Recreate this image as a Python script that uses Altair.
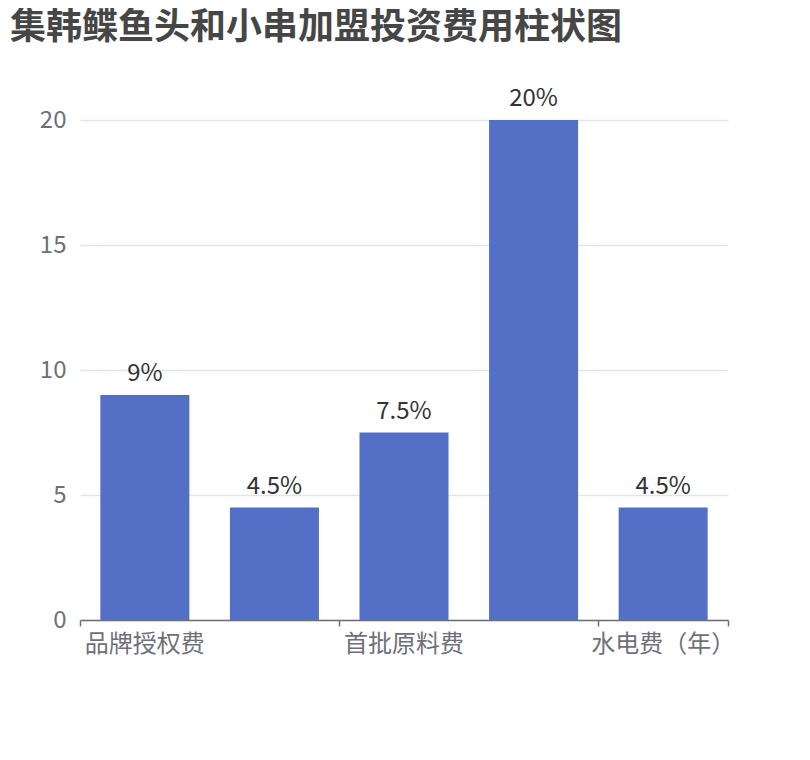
import altair as alt
import pandas as pd

categories = ["品牌授权费", "保证金", "首批原料费", "装修费", "水电费（年）"]
values = [9, 4.5, 7.5, 20, 4.5]
labels = ["9%", "4.5%", "7.5%", "20%", "4.5%"]
shown_x_labels = ["品牌授权费", "首批原料费", "水电费（年）"]
y_ticks = [0, 5, 10, 15, 20]
boundary_ticks = [0, 2, 4, 5]

df = pd.DataFrame({"cat": categories, "val": values, "lab": labels})

FONT = "Noto Sans CJK SC"

xscale = alt.Scale(domain=categories, paddingInner=0.313, paddingOuter=0.157)
yscale = alt.Scale(domain=[0, 20])

base = alt.Chart(df)

bars = base.mark_bar(color="#5470C6").encode(
    x=alt.X("cat:N", scale=xscale, sort=categories,
            axis=alt.Axis(title=None, values=shown_x_labels, ticks=False,
                          domainColor="#6E7079", domainWidth=1.5,
                          labelColor="#6E7079", labelFontSize=24, labelFont=FONT,
                          labelAngle=0, labelPadding=12, grid=False)),
    y=alt.Y("val:Q", scale=yscale,
            axis=alt.Axis(title=None, values=y_ticks, domain=False, ticks=False,
                          labelColor="#6E7079", labelFontSize=24, labelFont=FONT,
                          labelPadding=14, gridColor="#E0E6F1", gridWidth=1.3)),
)

text = base.mark_text(baseline="bottom", dy=-9, fontSize=24, font=FONT,
                      color="#333333").encode(
    x=alt.X("cat:N", scale=xscale, sort=categories),
    y=alt.Y("val:Q", scale=yscale),
    text="lab:N",
)

main = alt.layer(bars, text)

tick_layer = alt.Chart(pd.DataFrame({"b": boundary_ticks})).mark_point(opacity=0).encode(
    x=alt.X("b:Q", scale=alt.Scale(domain=[0, 5], nice=False, zero=False),
            axis=alt.Axis(title=None, orient="bottom", values=boundary_ticks,
                          labels=False, domain=False, ticks=True, tickSize=6,
                          tickColor="#6E7079", tickWidth=1.5, grid=False)),
    y=alt.value(500),
)

chart = alt.layer(main, tick_layer).resolve_scale(x="independent").properties(
    width=648, height=500,
    autosize=alt.AutoSizeParams(type="none"),
    padding={"left": 72, "top": 112, "right": 74, "bottom": 132},
    title=alt.TitleParams("集韩鲽鱼头和小串加盟投资费用柱状图", anchor="start",
                          frame="group", fontSize=36, font=FONT, fontWeight="bold",
                          color="#464646", dx=-70, offset=40),
).configure_view(stroke=None)

chart.save("out.html", embed_options={"renderer": "svg", "actions": False})
